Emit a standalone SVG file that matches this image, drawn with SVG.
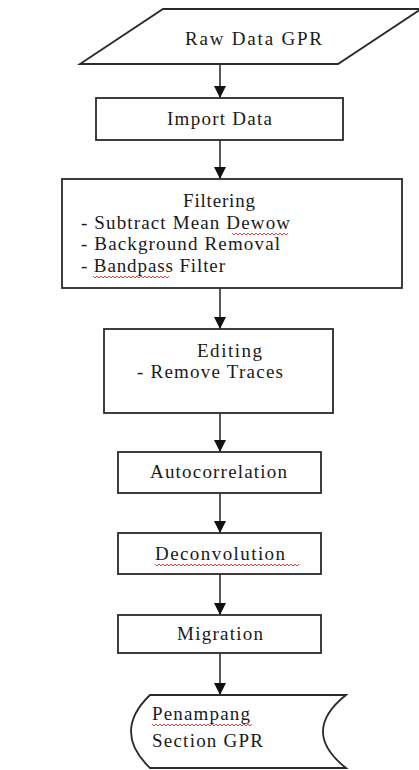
<svg xmlns="http://www.w3.org/2000/svg" width="419" height="770" viewBox="0 0 419 770">
<style>
.box{fill:#fff;stroke:#2a2a2a;stroke-width:1.8}
.t{font-family:"Liberation Serif","DejaVu Serif","Times New Roman",serif;font-size:19px;fill:#1a1a1a}
.c{stroke:#222;stroke-width:1.5;fill:none}
.sq{stroke:#e03030;stroke-width:0.9;fill:none}
</style>
<defs>
<marker id="ahd" markerUnits="userSpaceOnUse" markerWidth="12" markerHeight="13" viewBox="0 0 12 13" refX="12" refY="6" orient="auto">
<path d="M0,0 L12,6 L0,12 Z" fill="#111"/>
</marker>
</defs>
<rect width="419" height="770" fill="#fff"/>
<g id="connectors">
<line class="c" x1="220" y1="64" x2="220" y2="98" marker-end="url(#ahd)"/>
<line class="c" x1="220" y1="140" x2="220" y2="179" marker-end="url(#ahd)"/>
<line class="c" x1="220" y1="288" x2="220" y2="329" marker-end="url(#ahd)"/>
<line class="c" x1="220" y1="413" x2="220" y2="452" marker-end="url(#ahd)"/>
<line class="c" x1="220" y1="493" x2="220" y2="533" marker-end="url(#ahd)"/>
<line class="c" x1="220" y1="574" x2="220" y2="615" marker-end="url(#ahd)"/>
<line class="c" x1="220" y1="653" x2="220" y2="695" marker-end="url(#ahd)"/>
</g>
<g id="raw-data">
<polygon class="box" points="80,64 163,9 421,9 338,64"/>
<text class="t" font-family="Liberation Serif, DejaVu Serif, serif" x="185" y="45" textLength="137">Raw Data GPR</text>
</g>
<g id="import-data">
<rect class="box" x="96" y="98" width="247" height="42"/>
<text class="t" font-family="Liberation Serif, DejaVu Serif, serif" x="167" y="125" textLength="105">Import Data</text>
</g>
<g id="filtering">
<rect class="box" x="62" y="179" width="340" height="109"/>
<text class="t" font-family="Liberation Serif, DejaVu Serif, serif" x="183" y="207" textLength="72">Filtering</text>
<text class="t" font-family="Liberation Serif, DejaVu Serif, serif" x="81" y="229" textLength="209">- Subtract Mean Dewow</text>
<text class="t" font-family="Liberation Serif, DejaVu Serif, serif" x="81" y="250" textLength="199">- Background Removal</text>
<text class="t" font-family="Liberation Serif, DejaVu Serif, serif" x="81" y="272" textLength="144">- Bandpass Filter</text>
<path class="sq" d="M232,233 l2,2 l2,-2 l2,2 l2,-2 l2,2 l2,-2 l2,2 l2,-2 l2,2 l2,-2 l2,2 l2,-2 l2,2 l2,-2 l2,2 l2,-2 l2,2 l2,-2 l2,2 l2,-2 l2,2 l2,-2 l2,2 l2,-2 l2,2 l2,-2 l2,2 l2,-2"/>
<path class="sq" d="M93,276 l2,2 l2,-2 l2,2 l2,-2 l2,2 l2,-2 l2,2 l2,-2 l2,2 l2,-2 l2,2 l2,-2 l2,2 l2,-2 l2,2 l2,-2 l2,2 l2,-2 l2,2 l2,-2 l2,2 l2,-2 l2,2 l2,-2 l2,2 l2,-2 l2,2 l2,-2 l2,2 l2,-2 l2,2 l2,-2 l2,2 l2,-2 l2,2 l2,-2 l2,2 l2,-2"/>
</g>
<g id="editing">
<rect class="box" x="104" y="329" width="229" height="84"/>
<text class="t" font-family="Liberation Serif, DejaVu Serif, serif" x="197" y="357" textLength="65">Editing</text>
<text class="t" font-family="Liberation Serif, DejaVu Serif, serif" x="137" y="378" textLength="146">- Remove Traces</text>
</g>
<g id="autocorrelation">
<rect class="box" x="118" y="452" width="203" height="41"/>
<text class="t" font-family="Liberation Serif, DejaVu Serif, serif" x="150" y="478" textLength="137">Autocorrelation</text>
</g>
<g id="deconvolution">
<rect class="box" x="118" y="533" width="203" height="41"/>
<text class="t" font-family="Liberation Serif, DejaVu Serif, serif" x="155" y="560" textLength="130">Deconvolution</text>
<path class="sq" d="M155,564 l2,2 l2,-2 l2,2 l2,-2 l2,2 l2,-2 l2,2 l2,-2 l2,2 l2,-2 l2,2 l2,-2 l2,2 l2,-2 l2,2 l2,-2 l2,2 l2,-2 l2,2 l2,-2 l2,2 l2,-2 l2,2 l2,-2 l2,2 l2,-2 l2,2 l2,-2 l2,2 l2,-2 l2,2 l2,-2 l2,2 l2,-2 l2,2 l2,-2 l2,2 l2,-2 l2,2 l2,-2 l2,2 l2,-2 l2,2 l2,-2 l2,2 l2,-2 l2,2 l2,-2 l2,2 l2,-2 l2,2 l2,-2 l2,2 l2,-2 l2,2 l2,-2 l2,2 l2,-2 l2,2 l2,-2 l2,2 l2,-2 l2,2 l2,-2 l2,2 l2,-2 l2,2 l2,-2 l2,2 l2,-2 l2,2 l2,-2"/>
</g>
<g id="migration">
<rect class="box" x="118" y="615" width="203" height="38"/>
<text class="t" font-family="Liberation Serif, DejaVu Serif, serif" x="177" y="640" textLength="86">Migration</text>
</g>
<g id="penampang">
<path class="box" d="M150,695 L346,695 Q300,731.5 346,768 L150,768 Q112,731.5 150,695 Z"/>
<text class="t" font-family="Liberation Serif, DejaVu Serif, serif" x="152" y="720" textLength="98">Penampang</text>
<text class="t" font-family="Liberation Serif, DejaVu Serif, serif" x="152" y="747" textLength="111">Section GPR</text>
<path class="sq" d="M152,724 l2,2 l2,-2 l2,2 l2,-2 l2,2 l2,-2 l2,2 l2,-2 l2,2 l2,-2 l2,2 l2,-2 l2,2 l2,-2 l2,2 l2,-2 l2,2 l2,-2 l2,2 l2,-2 l2,2 l2,-2 l2,2 l2,-2 l2,2 l2,-2 l2,2 l2,-2 l2,2 l2,-2 l2,2 l2,-2 l2,2 l2,-2 l2,2 l2,-2 l2,2 l2,-2 l2,2 l2,-2 l2,2 l2,-2 l2,2 l2,-2 l2,2 l2,-2 l2,2 l2,-2 l2,2 l2,-2"/>
</g>
</svg>
